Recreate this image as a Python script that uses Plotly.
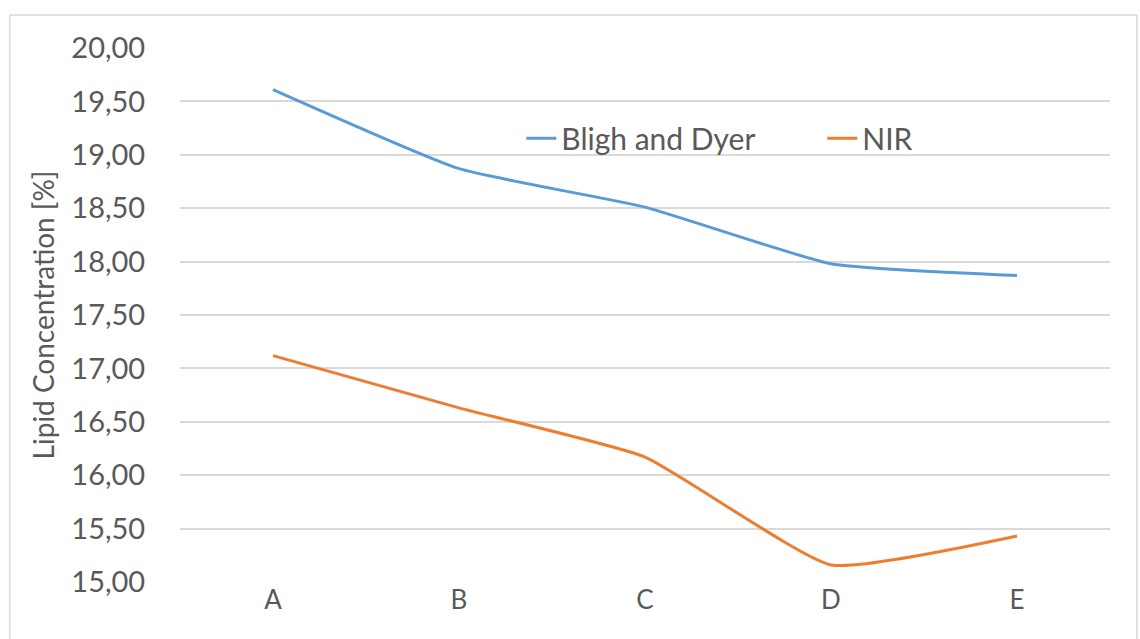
import plotly.graph_objects as go

# Samples and measured lipid concentrations (%)
samples = ["A", "B", "C", "D", "E"]
bligh_dyer = [19.61, 18.87, 18.51, 17.98, 17.87]
nir = [17.12, 16.63, 16.17, 15.16, 15.43]

TEXT = "#595959"
GRID = "#d9d9d9"
FONT = "Lato, 'Open Sans', sans-serif"

fig = go.Figure()
fig.add_trace(go.Scatter(
    x=samples, y=bligh_dyer, name="Bligh and Dyer", mode="lines",
    line=dict(color="#5b9bd5", width=3, shape="spline", smoothing=0.45),
))
fig.add_trace(go.Scatter(
    x=samples, y=nir, name="NIR", mode="lines",
    line=dict(color="#ed7d31", width=3, shape="spline", smoothing=0.45),
))

fig.update_layout(
    width=1140, height=639,
    margin=dict(l=180, r=30, t=48, b=57),
    paper_bgcolor="white", plot_bgcolor="white",
    separators=",.",
    font=dict(family=FONT, color=TEXT, size=26),
    showlegend=True,
    legend=dict(
        orientation="h", x=0.367, xanchor="left", y=0.831, yanchor="middle",
        bgcolor="rgba(0,0,0,0)", font=dict(size=30, color=TEXT),
        entrywidth=256, entrywidthmode="pixels",
    ),
    xaxis=dict(
        type="category", range=[-0.5, 4.5], showgrid=False, showline=False,
        zeroline=False, ticks="", tickfont=dict(size=26, color=TEXT),
    ),
    yaxis=dict(
        range=[15, 20], dtick=0.5, tick0=15, tickformat=".2f",
        showgrid=True, gridcolor=GRID, gridwidth=1.5, zeroline=False,
        showline=False, ticks="outside", ticklen=28,
        tickcolor="rgba(0,0,0,0)", tickfont=dict(size=29, color=TEXT),
        title=dict(text="Lipid Concentration [%]", font=dict(size=28, color=TEXT),
                   standoff=8),
    ),
    shapes=[dict(
        type="rect", xref="paper", yref="paper",
        x0=-0.183, x1=1.029, y0=-0.2, y1=1.062,
        line=dict(color=GRID, width=1.5), layer="below",
    )],
)

fig.write_html("out.html")
